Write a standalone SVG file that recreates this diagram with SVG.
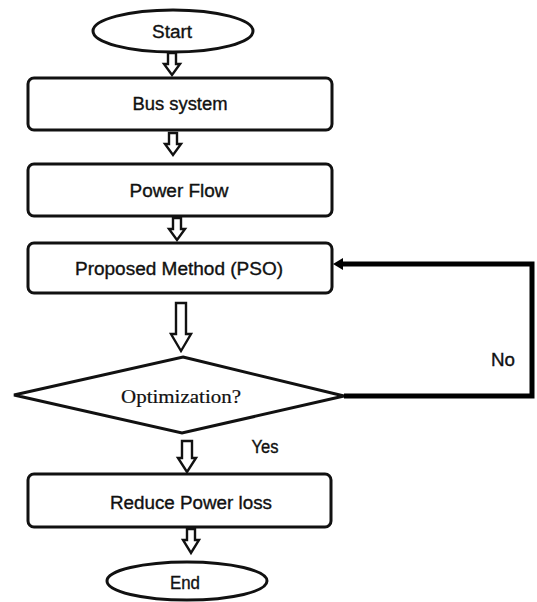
<svg xmlns="http://www.w3.org/2000/svg" width="537" height="602" viewBox="0 0 537 602">
<defs>
<style>
.shape{fill:#fff;stroke:#111;stroke-width:3}
.harrow{fill:#fff;stroke:#111;stroke-width:2.4;stroke-linejoin:miter}
.lbl{font-family:"Liberation Sans",Arial,sans-serif;font-size:18px;fill:#111;stroke:#111;stroke-width:0.35;text-anchor:middle}
.ser{font-family:"Liberation Serif","Times New Roman",serif;font-size:18px;fill:#111;stroke:#111;stroke-width:0.2;text-anchor:middle}
.fb{fill:none;stroke:#000;stroke-width:5;stroke-linejoin:miter}
</style>
</defs>
<rect width="537" height="602" fill="#fff"/>

<g id="start">
<ellipse class="shape" cx="173" cy="31" rx="80" ry="21"/>
<text class="lbl" x="172" y="38" textLength="40" lengthAdjust="spacingAndGlyphs">Start</text>
</g>
<g id="bus">
<rect class="shape" x="28" y="78" width="304" height="52" rx="6"/>
<text class="lbl" x="180" y="110" textLength="95" lengthAdjust="spacingAndGlyphs">Bus system</text>
</g>
<g id="powerflow">
<rect class="shape" x="28" y="164" width="304" height="52" rx="6"/>
<text class="lbl" x="179" y="197" textLength="99" lengthAdjust="spacingAndGlyphs">Power Flow</text>
</g>
<g id="pso">
<rect class="shape" x="28" y="243" width="304" height="50" rx="6"/>
<text class="lbl" x="179" y="275" textLength="208" lengthAdjust="spacingAndGlyphs">Proposed Method (PSO)</text>
</g>
<g id="decision">
<polygon class="shape" points="183,357 344,396 182,433 14,395"/>
<text class="ser" x="181" y="403" textLength="120" lengthAdjust="spacingAndGlyphs">Optimization?</text>
</g>
<g id="reduce">
<rect class="shape" x="28" y="474" width="303" height="53" rx="6"/>
<text class="lbl" x="191" y="509" textLength="162" lengthAdjust="spacingAndGlyphs">Reduce Power loss</text>
</g>
<g id="end">
<ellipse class="shape" cx="187" cy="581" rx="80" ry="19"/>
<text class="lbl" x="185" y="589" textLength="30" lengthAdjust="spacingAndGlyphs">End</text>
</g>

<g id="connectors">
<polygon class="harrow" points="168,53 176,53 176,64 180,64 172,75 164,64 168,64"/>
<polygon class="harrow" points="169,133 177,133 177,144 181,144 173,155 165,144 169,144"/>
<polygon class="harrow" points="173,218 181,218 181,229 185,229 177,240 169,229 173,229"/>
<polygon class="harrow" points="176,303 186,303 186,334 191,334 181,351 171,334 176,334"/>
<polygon class="harrow" points="182,441 192,441 192,458 196,458 187,472 178,458 182,458"/>
<polygon class="harrow" points="187,529 195,529 195,540 199,540 191,553 183,540 187,540"/>
<path class="fb" d="M344,396 L532,396 L532,264 L342,264"/>
<polygon points="333,264 343,258 343,270" fill="#000"/>
<text class="lbl" x="503" y="366" textLength="24" lengthAdjust="spacingAndGlyphs">No</text>
<text class="lbl" x="265" y="453" textLength="27" lengthAdjust="spacingAndGlyphs">Yes</text>
</g>
</svg>
